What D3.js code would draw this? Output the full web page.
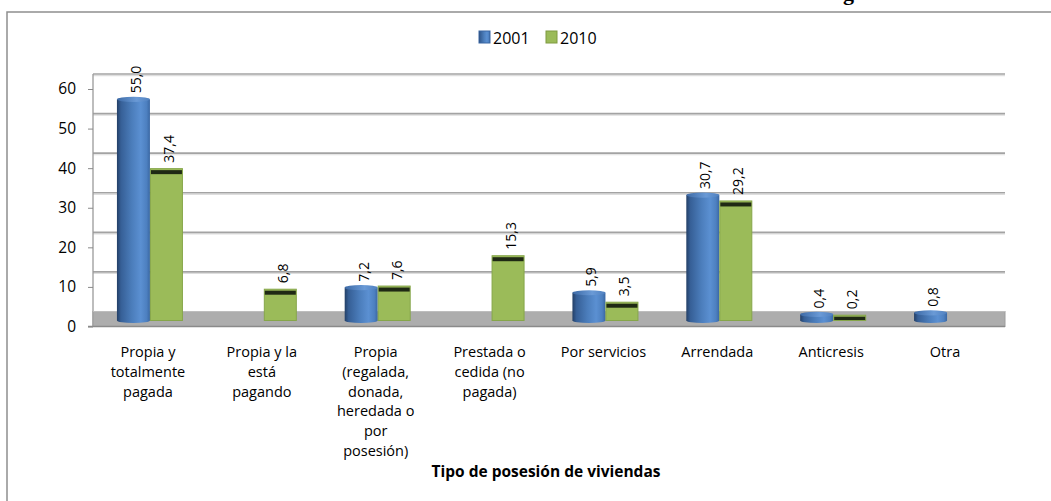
<!DOCTYPE html>
<html><head><meta charset="utf-8">
<script src="https://cdn.jsdelivr.net/npm/d3@7"></script>
<style>
html,body{margin:0;padding:0;background:#fff;}
svg{display:block;}
text{font-family:"Open Sans","Liberation Sans",sans-serif;}
</style></head>
<body><svg id="c" width="1051" height="501"></svg>
<script>
const categories = [
  ["Propia y","totalmente","pagada"],
  ["Propia y la","está","pagando"],
  ["Propia","(regalada,","donada,","heredada o","por","posesión)"],
  ["Prestada o","cedida (no","pagada)"],
  ["Por servicios"],
  ["Arrendada"],
  ["Anticresis"],
  ["Otra"]
];
const seriesNames = ["2001","2010"];
const values2001 = [55.0, null, 7.2, null, 5.9, 30.7, 0.4, 0.8];
const values2010 = [37.4, 6.8, 7.6, 15.3, 3.5, 29.2, 0.2, null];
const yTicks = [0,10,20,30,40,50,60];
const axisTitle = "Tipo de posesión de viviendas";

const svg = d3.select("#c");
svg.append("rect").attr("width",1051).attr("height",501).attr("fill","#fff");

const defs = svg.append("defs");
const bg = defs.append("linearGradient").attr("id","blueGrad").attr("x1","0").attr("x2","1").attr("y1","0").attr("y2","0");
[[0,"#233f66"],[0.12,"#365f96"],[0.45,"#4b7dbb"],[0.72,"#5b90d2"],[0.9,"#4d80c0"],[1,"#3a67a3"]]
  .forEach(([o,c])=>bg.append("stop").attr("offset",o).attr("stop-color",c));
const bt = defs.append("linearGradient").attr("id","blueTop").attr("x1","0").attr("x2","1");
[[0,"#3d6aa6"],[0.6,"#6a9ad6"],[1,"#4f80bf"]].forEach(([o,c])=>bt.append("stop").attr("offset",o).attr("stop-color",c));
defs.append("filter").attr("id","blur").attr("x","-50%").attr("y","-200%").attr("width","200%").attr("height","500%")
  .append("feGaussianBlur").attr("stdDeviation",1.2);

// clipped title fragment (cut off at top edge in the reference)
svg.append("text").attr("x",843).attr("y",0).attr("font-weight","bold")
  .attr("font-size",22).attr("fill","#000").style("font-family","'Liberation Serif',serif").text("g");

// chart border
svg.append("rect").attr("x",7).attr("y",12).attr("width",1100).attr("height",600)
  .attr("fill","none").attr("stroke","#8e8e8e").attr("stroke-width",1.5);

const left = 93, right = 1005;
const x = d3.scaleBand().domain(d3.range(categories.length)).range([93,1004]).padding(0);
const xs = d3.scaleBand().domain(seriesNames).range([0,66]);
const yFront = d3.scaleLinear().domain([0,60]).range([326.5,89]);
const yBack = d3.scaleLinear().domain([0,60]).range([311.5,74]);
const yBar = d3.scaleLinear().domain([0,60]).range([316,79.6]);
const barBase = 320.5;

// gridlines (back wall)
const grid = svg.append("g");
yTicks.filter(t=>t>0).forEach(t=>{
  grid.append("line").attr("x1",left).attr("x2",right).attr("y1",yBack(t)+1.6).attr("y2",yBack(t)+1.6)
    .attr("stroke","#dedede").attr("stroke-width",1.2);
  grid.append("line").attr("x1",left).attr("x2",right).attr("y1",yBack(t)).attr("y2",yBack(t))
    .attr("stroke","#a3a3a3").attr("stroke-width",1.6);
});
// left wall line
svg.append("line").attr("x1",left).attr("x2",left).attr("y1",yBack(60)).attr("y2",yFront(0))
  .attr("stroke","#9a9a9a").attr("stroke-width",1.3);

// floor
svg.append("rect").attr("x",left).attr("y",yBack(0)).attr("width",right-left).attr("height",yFront(0)-yBack(0))
  .attr("fill","#adadad").attr("stroke","#9c9c9c").attr("stroke-width",1);
svg.append("line").attr("x1",left).attr("x2",right).attr("y1",yBack(0)).attr("y2",yBack(0))
  .attr("stroke","#bdbdbd").attr("stroke-width",1.2);
svg.append("line").attr("x1",88).attr("x2",right).attr("y1",yFront(0)).attr("y2",yFront(0))
  .attr("stroke","#8a8a8a").attr("stroke-width",1.3);

// axis
const ax = svg.append("g").attr("transform",`translate(${left},0)`)
  .call(d3.axisLeft(yFront).tickValues(yTicks).tickSize(5).tickPadding(12).tickFormat(d3.format("d")));
ax.select(".domain").remove();
ax.selectAll(".tick line").attr("stroke","#8a8a8a");
ax.selectAll(".tick text").attr("font-size",15.5).attr("fill","#000").style("font-family","'Open Sans',sans-serif");
// blurred tick shadows
yTicks.forEach(t=>{
  svg.append("line").attr("x1",88).attr("x2",93).attr("y1",yFront(t)+6).attr("y2",yFront(t)+6)
    .attr("stroke","#9a9a9a").attr("stroke-width",2).attr("filter","url(#blur)");
});

// bars
const fmt = v => d3.format(".1f")(v).replace(".",",");
const gBars = svg.append("g");
categories.forEach((c,i)=>{
  const x0 = x(i) + x.bandwidth()/2 - 33;
  const w = xs.bandwidth();
  const v1 = values2001[i], v2 = values2010[i];
  if (v1 != null) {
    const bx = x0 + xs("2001"), top = yBar(v1);
    gBars.append("ellipse").attr("cx",bx+w/2).attr("cy",barBase).attr("rx",w/2).attr("ry",2.5).attr("fill","url(#blueGrad)");
    gBars.append("rect").attr("x",bx).attr("y",top).attr("width",w).attr("height",barBase-top).attr("fill","url(#blueGrad)");
    gBars.append("ellipse").attr("cx",bx+w/2).attr("cy",top).attr("rx",w/2).attr("ry",2.6).attr("fill","url(#blueTop)");
    gBars.append("text").attr("transform",`translate(${bx+w/2+2},${top-6}) rotate(-90)`)
      .attr("dominant-baseline","central").attr("font-size",14).attr("fill","#000").text(fmt(v1));
  }
  if (v2 != null) {
    const bx = x0 + xs("2010"), top = yBar(v2);
    gBars.append("rect").attr("x",bx+0.5).attr("y",top).attr("width",w-1).attr("height",barBase-top)
      .attr("fill","#9bbb59").attr("stroke","#86a64a").attr("stroke-width",1);
    gBars.append("rect").attr("x",bx+1).attr("y",top+1.5).attr("width",w-2).attr("height",Math.min(4,barBase-top-2))
      .attr("fill","#1f2914");
    gBars.append("text").attr("transform",`translate(${bx+w/2+2},${top-6}) rotate(-90)`)
      .attr("dominant-baseline","central").attr("font-size",14).attr("fill","#000").text(fmt(v2));
  }
});

// category labels (one text per line)
categories.forEach((lines,i)=>{
  lines.forEach((ln,k)=>{
    svg.append("text").attr("text-anchor","middle").attr("font-size",14.5).attr("fill","#000")
      .attr("x",x(i)+x.bandwidth()/2-2).attr("y",357+k*19.8).text(ln);
  });
});

// axis title
svg.append("text").attr("x",546).attr("y",477).attr("text-anchor","middle").attr("font-size",15.5)
  .attr("font-weight","bold").attr("fill","#000").text(axisTitle);

// legend
const leg = svg.append("g");
const legItems = [{n:"2001",x:479,fill:"url(#blueGrad)",stroke:"#3a67a3"},{n:"2010",x:546,fill:"#9bbb59",stroke:"#7f9a40"}];
legItems.forEach(d=>{
  leg.append("rect").attr("x",d.x).attr("y",31).attr("width",11).attr("height",12).attr("fill",d.fill).attr("stroke",d.stroke).attr("stroke-width",1);
  leg.append("text").attr("x",d.x+14).attr("y",37.5).attr("dominant-baseline","central").attr("font-size",16).attr("fill","#000").text(d.n);
});
</script></body></html>
